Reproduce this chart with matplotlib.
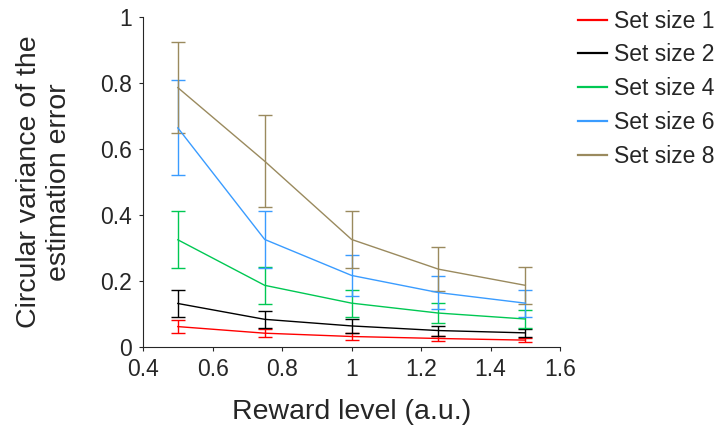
import numpy as np
import matplotlib.pyplot as plt
from matplotlib.lines import Line2D

plt.rcParams['font.family'] = ['Liberation Sans', 'DejaVu Sans']

reward = [0.5, 0.75, 1.0, 1.25, 1.5]

labels = ["Set size 1", "Set size 2", "Set size 4", "Set size 6", "Set size 8"]
colors = ["#ff0000", "#000000", "#00c853", "#3a9cff", "#9a8a5e"]

cv1 = [0.062, 0.042, 0.032, 0.026, 0.021]
cv2 = [0.132, 0.084, 0.064, 0.050, 0.043]
cv4 = [0.325, 0.187, 0.133, 0.103, 0.085]
cv6 = [0.664, 0.326, 0.217, 0.165, 0.133]
cv8 = [0.786, 0.563, 0.326, 0.236, 0.187]

err1 = [0.020, 0.012, 0.010, 0.008, 0.007]
err2 = [0.041, 0.026, 0.020, 0.015, 0.013]
err4 = [0.086, 0.056, 0.041, 0.031, 0.026]
err6 = [0.144, 0.086, 0.062, 0.051, 0.041]
err8 = [0.137, 0.140, 0.086, 0.067, 0.056]

means = [cv1, cv2, cv4, cv6, cv8]
errs = [err1, err2, err4, err6, err8]

txt = "#262626"

fig = plt.figure(figsize=(7.19, 4.36), dpi=100)
ax = fig.add_axes([0.199, 0.204, 0.58, 0.757])

for m, e, c in zip(means, errs, colors):
    ax.errorbar(reward, m, yerr=e, color=c, lw=1.0, elinewidth=1.0,
                capsize=5, capthick=1.0)

ax.set_xlim(0.4, 1.6)
ax.set_ylim(0, 1)
ax.set_xticks([0.4, 0.6, 0.8, 1.0, 1.2, 1.4, 1.6])
ax.set_xticklabels(["0.4", "0.6", "0.8", "1", "1.2", "1.4", "1.6"])
ax.set_yticks([0, 0.2, 0.4, 0.6, 0.8, 1.0])
ax.set_yticklabels(["0", "0.2", "0.4", "0.6", "0.8", "1"])
ax.spines['top'].set_visible(False)
ax.spines['right'].set_visible(False)
for s in ['left', 'bottom']:
    ax.spines[s].set_color(txt)
    ax.spines[s].set_linewidth(0.8)
ax.tick_params(direction='out', length=3, width=0.8, colors=txt, labelsize=16.5, pad=5)

ax.set_xlabel("Reward level (a.u.)", fontsize=20.5, color=txt, labelpad=13)
ax.set_ylabel("Circular variance of the\nestimation error", fontsize=20.5, color=txt, labelpad=20)

handles = [Line2D([], [], color=c, lw=1.6) for c in colors]
leg = ax.legend(handles, labels, loc='upper left', bbox_to_anchor=(1.02, 1.05), frameon=False,
                fontsize=16.5, handlelength=1.3, handletextpad=0.3, labelspacing=0.47,
                borderaxespad=0)
for t in leg.get_texts():
    t.set_color(txt)

fig.savefig("out.png", dpi=100)
